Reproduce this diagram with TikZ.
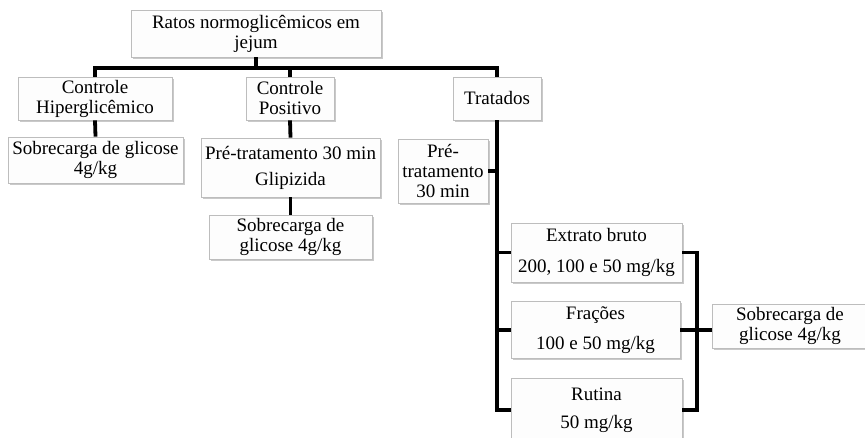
\documentclass[tikz,border=0pt]{standalone}
\usepackage{fontspec}
\setmainfont{Liberation Serif}
\usetikzlibrary{shadows}
\definecolor{boxline}{HTML}{BDBDBD}
\definecolor{boxfill}{HTML}{FDFDFD}
\begin{document}
\begin{tikzpicture}[x=1pt,y=-1pt,
  box/.style={draw=boxline, line width=0.8pt, fill=boxfill, align=center,
    inner sep=0pt, font=\fontsize{19}{20}\selectfont,
    drop shadow={shadow xshift=1.6pt, shadow yshift=-1.6pt, opacity=0.35, fill=black!60}},
  link/.style={line width=3.8pt, line cap=butt, line join=miter}]
\clip (0,0) rectangle (865,438);
\fill[white] (0,0) rectangle (865,438);

% boxes: minimum width / height set per box
\node[box, minimum width=250pt, minimum height=47pt] (top) at (256,33.5) {Ratos normoglicêmicos em\\jejum};
\node[box, minimum width=154pt, minimum height=43pt] (hiper) at (95,98.5) {Controle\\Hiperglicêmico};
\node[box, minimum width=88pt, minimum height=43pt] (pos) at (290,98.5) {Controle\\Positivo};
\node[box, minimum width=88pt, minimum height=43pt] (trat) at (497,98.5) {Tratados};
\node[box, minimum width=175pt, minimum height=46pt] (sobA) at (95.5,160) {Sobrecarga de glicose\\4g/kg};
\node[box, minimum width=179pt, minimum height=59pt] (glip) at (290.5,167.5) {Pré-tratamento 30 min\\[6pt]Glipizida};
\node[box, minimum width=163pt, minimum height=44pt] (sobB) at (290.5,237) {Sobrecarga de\\glicose 4g/kg};
\node[box, minimum width=90pt, minimum height=64pt] (pre) at (443,171) {Pré-\\tratamento\\30 min};
\node[box, minimum width=171pt, minimum height=59pt] (ext) at (596.5,252.5) {Extrato bruto\\[11pt]200, 100 e 50 mg/kg};
\node[box, minimum width=169pt, minimum height=57pt] (frac) at (595.5,330) {Frações\\[10pt]100 e 50 mg/kg};
\node[box, minimum width=171pt, minimum height=64pt] (rut) at (596.5,410) {Rutina\\[8pt]50 mg/kg};
\node[box, minimum width=156pt, minimum height=44pt] (sobC) at (790,326) {Sobrecarga de\\glicose 4g/kg};

% connectors
\coordinate (bar) at (256,68);
\coordinate (rb) at (697,0);
\draw[link] (top.south) -- (bar);
\draw[link] (hiper.north) -- (hiper.north |- bar) -- (trat.north |- bar) -- (trat.north);
\draw[link] (pos.north) -- (pos.north |- bar);
\draw[link] (hiper.south) -- (sobA.north);
\draw[link] (pos.south) -- (glip.north);
\draw[link] (glip.south) -- (sobB.north);
\draw[link] (trat.south) -- (trat.south |- rut.west) -- (rut.west);
\draw[link] (pre.east) -- (pre.east -| trat.south);
\draw[link] (ext.west) -- (ext.west -| trat.south);
\draw[link] (frac.west) -- (frac.west -| trat.south);
\draw[link] (ext.east) -- (ext.east -| rb) -- (rut.east -| rb) -- (rut.east);
\draw[link] (frac.east) -- (frac.east -| sobC.west);
\end{tikzpicture}
\end{document}
